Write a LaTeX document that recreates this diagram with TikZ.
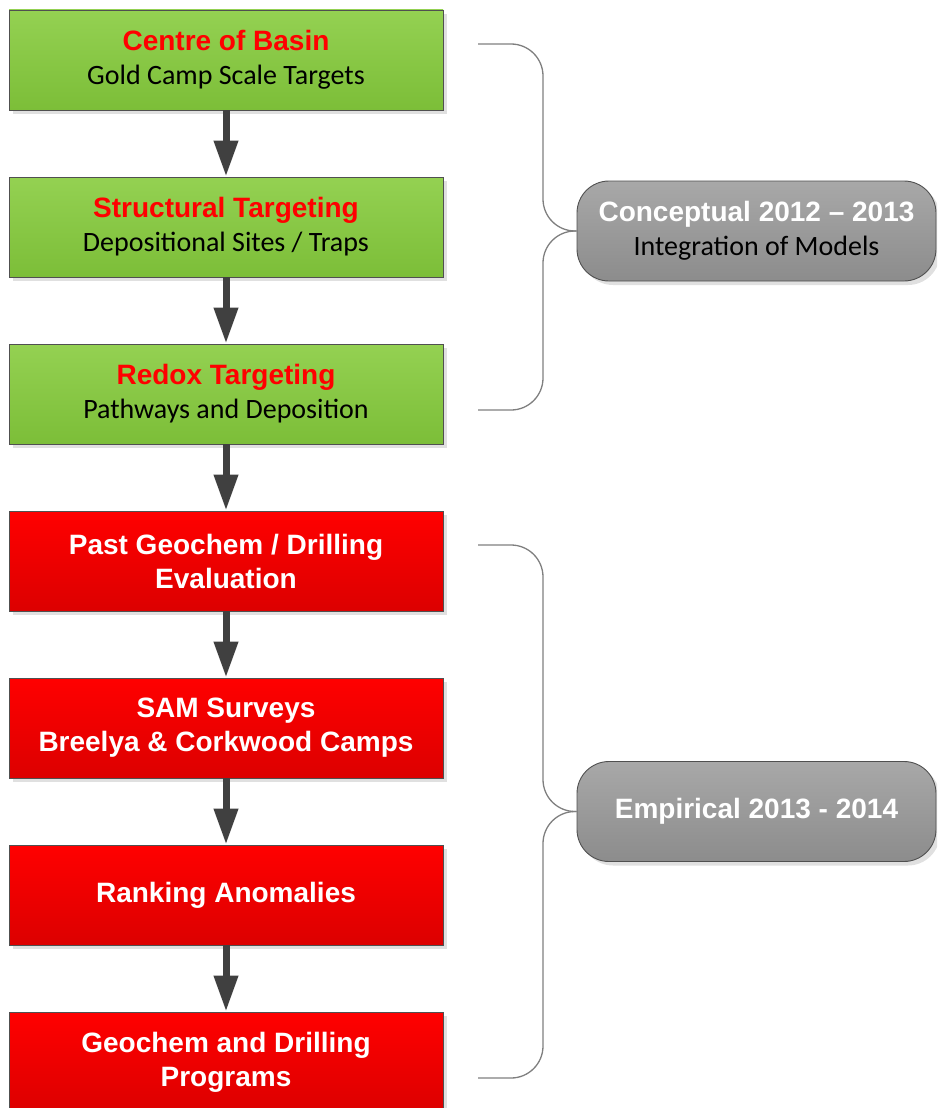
\documentclass[tikz,border=0pt]{standalone}
\usepackage{fontspec}
\setmainfont{Carlito}
\newfontfamily\hfont{Liberation Sans}
\usetikzlibrary{arrows.meta,shadows}
\definecolor{gtop}{HTML}{94D152}
\definecolor{gbot}{HTML}{7CBE38}
\definecolor{rtop}{HTML}{FF0000}
\definecolor{rbot}{HTML}{DC0000}
\definecolor{titlered}{HTML}{FF0000}
\definecolor{ptop}{HTML}{A8A8A8}
\definecolor{pbot}{HTML}{8C8C8C}
\definecolor{arrowgray}{HTML}{404040}
\definecolor{bracegray}{HTML}{7F7F7F}
\definecolor{edgegray}{HTML}{505050}
\begin{document}
\begin{tikzpicture}[x=1pt,y=-1pt,
  stage/.style={rectangle, draw=edgegray, line width=0.9pt, minimum width=434pt, minimum height=100pt,
    inner sep=0pt, align=center, font=\fontsize{28}{34}\selectfont,
    drop shadow={shadow xshift=4pt, shadow yshift=-4pt, fill=black!20, opacity=0.6}},
  greenbox/.style={stage, top color=gtop, bottom color=gbot},
  redbox/.style={stage, top color=rtop, bottom color=rbot, text=white, font=\hfont\bfseries\fontsize{28}{34}\selectfont},
  phase/.style={rectangle, rounded corners=32pt, draw=edgegray, line width=0.9pt, minimum width=359pt, minimum height=100pt,
    inner sep=0pt, align=center, top color=ptop, bottom color=pbot, font=\fontsize{28}{34}\selectfont,
    drop shadow={shadow xshift=4pt, shadow yshift=-4pt, fill=black!20, opacity=0.6}},
  flow/.style={draw=arrowgray, line width=7pt, -{Triangle[length=36pt,width=23pt]}},
  brace/.style={draw=bracegray, line width=1.3pt, rounded corners=32pt}
]
\useasboundingbox (0,0) rectangle (937,1108);
\clip (0,0) rectangle (937,1108);

\node[greenbox] (b1) at (226,60) {{\hfont\bfseries\color{titlered}Centre of Basin}\\Gold Camp Scale Targets};
\node[greenbox] (b2) at (226,227) {{\hfont\bfseries\color{titlered}Structural Targeting}\\Depositional Sites / Traps};
\node[greenbox] (b3) at (226,394) {{\hfont\bfseries\color{titlered}Redox Targeting}\\Pathways and Deposition};
\node[redbox] (b4) at (226,561) {Past Geochem / Drilling\\Evaluation};
\node[redbox] (b5) at (226,728) {SAM Surveys\\Breelya \& Corkwood Camps};
\node[redbox] (b6) at (226,895) {Ranking Anomalies};
\node[redbox] (b7) at (226,1062) {Geochem and Drilling\\Programs};

\draw[flow] (b1.south) -- (b2.north);
\draw[flow] (b2.south) -- (b3.north);
\draw[flow] (b3.south) -- (b4.north);
\draw[flow] (b4.south) -- (b5.north);
\draw[flow] (b5.south) -- (b6.north);
\draw[flow] (b6.south) -- (b7.north);

\node[phase] (p1) at (756.5,231) {{\hfont\bfseries\color{white}Conceptual 2012 – 2013}\\Integration of Models};
\node[phase] (p2) at (756.5,811.5) {{\hfont\bfseries\color{white}Empirical 2013 - 2014}};

\coordinate (t1) at (478,44);
\coordinate (u1) at (478,410);
\coordinate (t2) at (478,545);
\coordinate (u2) at (478,1078);
\draw[brace] (t1) -- (543,44) -- (543,231) -- (p1.west);
\draw[brace] (u1) -- (543,410) -- (543,231) -- (p1.west);
\draw[brace] (t2) -- (543,545) -- (543,811.5) -- (p2.west);
\draw[brace] (u2) -- (543,1078) -- (543,811.5) -- (p2.west);
\end{tikzpicture}
\end{document}
